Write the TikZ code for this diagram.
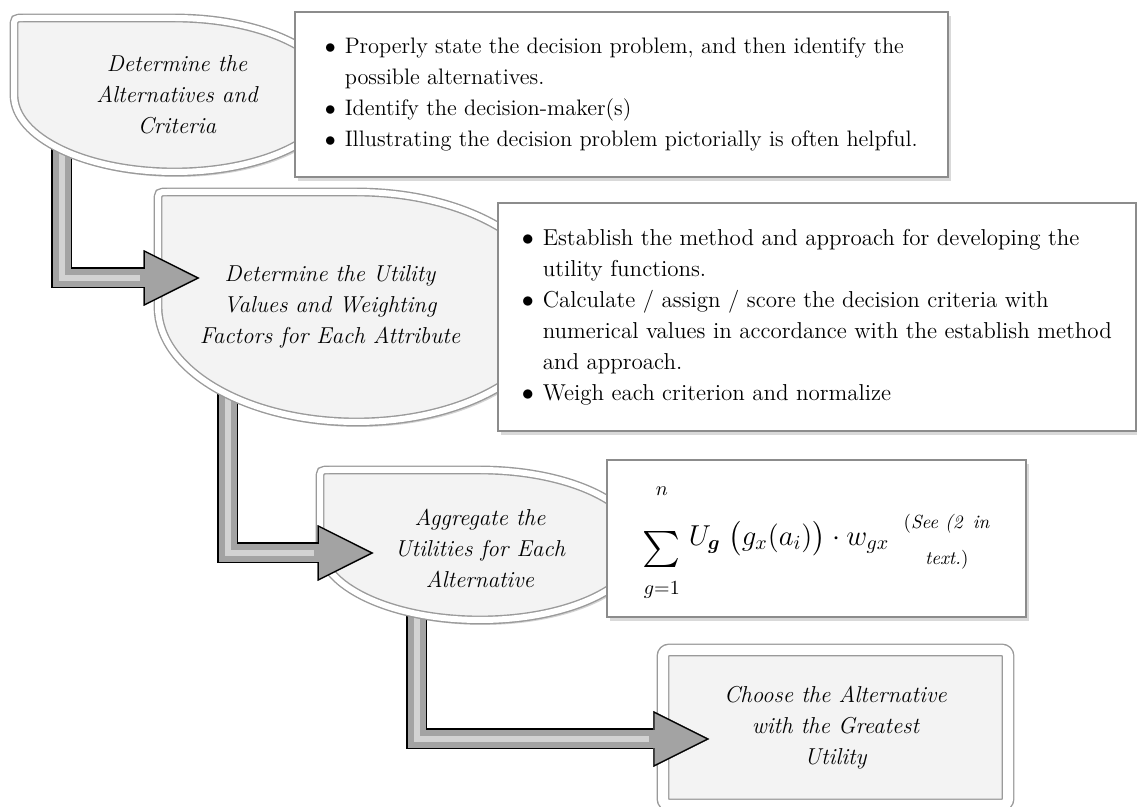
\documentclass[tikz,border=0pt]{standalone}
\usepackage{amsmath,amssymb}
\usepackage{fontspec}
\usepackage{tikz}
\usetikzlibrary{arrows.meta,positioning,calc,shadows}
\definecolor{stagefill}{HTML}{F3F3F3}
\definecolor{rimgray}{HTML}{9A9A9A}
\definecolor{shaftgray}{HTML}{A3A3A3}
\definecolor{shaftlight}{HTML}{D2D2D2}
\definecolor{boxline}{HTML}{8C8C8C}
\pgfdeclarelayer{l1}\pgfdeclarelayer{l2}\pgfdeclarelayer{l3}
\pgfdeclarelayer{l4}\pgfdeclarelayer{l5}\pgfdeclarelayer{l6}
\pgfsetlayers{l1,l2,l3,l4,l5,l6,main}

\begin{document}
\begin{tikzpicture}[x=0.5pt,y=-0.5pt,
			stage/.style={fill=stagefill,draw=rimgray,line width=0.7pt,double=white,double distance=3pt,drop shadow={shadow xshift=1.5pt,shadow yshift=-2.5pt,opacity=0.35}},
			teardrop/.style n args={4}{insert path={(#1,{#2+10}) .. controls (#1,#2) .. ({#1+10},#2) -- ({(#1+#3)/2},#2) .. controls ({(#1+#3)/2+0.5523*(#3-#1)/2},#2) and (#3,{(#2+#4)/2-0.5523*(#4-#2)/2}) .. (#3,{(#2+#4)/2}) .. controls (#3,{(#2+#4)/2+0.5523*(#4-#2)/2}) and ({(#1+#3)/2+0.5523*(#3-#1)/2},#4) .. ({(#1+#3)/2},#4) .. controls ({(#1+#3)/2-0.5523*(#3-#1)/2},#4) and (#1,{(#2+#4)/2+0.5523*(#4-#2)/2}) .. (#1,{(#2+#4)/2}) -- cycle}},
			stagetext/.style={inner sep=0pt,align=center,font=\fontsize{11.5}{15.5}\selectfont\itshape},
			note/.style={draw=boxline,line width=0.8pt,fill=white,anchor=north west,inner ysep=0pt,align=left,font=\fontsize{11.5}{15.5}\selectfont,drop shadow={shadow xshift=1.5pt,shadow yshift=-2pt,opacity=0.3}},
			arrout/.style={draw=black,line width=10.5pt,-{Triangle[length=28pt,width=28pt,line width=0.1pt]}},
			arrin/.style={draw=shaftgray,line width=9pt,shorten >=1.7pt,-{Triangle[length=25.6pt,width=25.6pt,line width=0.1pt]}},
			arrlight/.style={draw=shaftlight,line width=3pt,shorten >=30pt}
			]
			\useasboundingbox (0,0) rectangle (1137,807);
			% stage 1
			\path[stage,teardrop={14}{18}{335}{172}];
			\node[stagetext,minimum width=163pt,minimum height=77pt] (s1) at (177,95) {Determine the\\Alternatives and\\Criteria};
			\node[note,minimum height=82.5pt,inner xsep=15pt,font=\fontsize{11.2}{15.5}\selectfont] (n1) at (294,11) {\begin{tabular}{@{}l@{\hspace{4.5pt}}l@{}}
					$\bullet$ & Properly state the decision problem, and then identify the\\
					& possible alternatives.\\
					$\bullet$ & Identify the decision-maker(s)\\
					$\bullet$ & Illustrating the decision problem pictorially is often helpful.
				\end{tabular}};
			% stage 2
			\begin{pgfonlayer}{l5}
				\path[stage,teardrop={158}{192}{555}{422}];
				\node[stagetext,minimum width=172pt,minimum height=115pt] (s2) at (330,307) {Determine the Utility\\Values and Weighting\\Factors for Each Attribute};
				\node[note,minimum height=114pt,inner xsep=12pt] (n2) at (497,202) {\begin{tabular}{@{}l@{\hspace{4.5pt}}l@{}}
						$\bullet$ & Establish the method and approach for developing the\\
						& utility functions.\\
						$\bullet$ & Calculate / assign / score the decision criteria with\\
						& numerical values in accordance with the establish method\\
						& and approach.\\
						$\bullet$ & Weigh each criterion and normalize
					\end{tabular}};
			\end{pgfonlayer}
			\begin{pgfonlayer}{l6}
				\draw[arrout] ([xshift=24pt,yshift=25pt]s1.south west) |- ([xshift=21pt,yshift=14.5pt]s2.west);
				\draw[arrin] ([xshift=24pt,yshift=25pt]s1.south west) |- ([xshift=21pt,yshift=14.5pt]s2.west);
				\draw[arrlight] ([xshift=24pt,yshift=25pt]s1.south west) |- ([xshift=21pt,yshift=14.5pt]s2.west);
			\end{pgfonlayer}
			% stage 3
			\begin{pgfonlayer}{l3}
				\path[stage,teardrop={320}{470}{640}{620}];
				\node[stagetext,minimum width=160pt,minimum height=75pt] (s3) at (480,548) {Aggregate the\\Utilities for Each\\Alternative};
				\node[note,minimum width=209.5pt,minimum height=78.5pt,inner xsep=15pt,font=\fontsize{14.4}{17}\selectfont] (n3) at (606,459) {$\begin{array}{@{}c@{}}\scriptstyle n\\[13pt]\scalebox{1.25}{$\sum$}\\[1pt]\scriptstyle g=1\end{array}\;U_{\boldsymbol{g}}\;\bigl(g_{x}(a_{i})\bigr)\cdot w_{gx}$\enspace\raisebox{1pt}{\fontsize{9.5}{18}\selectfont\begin{tabular}{@{}c@{}}(\textit{See (2}\enspace\textit{in}\\\textit{text.})\end{tabular}}};
			\end{pgfonlayer}
			\begin{pgfonlayer}{l4}
				\draw[arrout] ([xshift=35pt,yshift=25pt]s2.south west) |- ([xshift=27pt,yshift=-2.5pt]s3.west);
				\draw[arrin] ([xshift=35pt,yshift=25pt]s2.south west) |- ([xshift=27pt,yshift=-2.5pt]s3.west);
				\draw[arrlight] ([xshift=35pt,yshift=25pt]s2.south west) |- ([xshift=27pt,yshift=-2.5pt]s3.west);
			\end{pgfonlayer}
			% stage 4
			\begin{pgfonlayer}{l1}
				\node[stage,stagetext,double distance=5pt,rounded corners=3pt,minimum width=172.5pt,minimum height=77.5pt] (b4) at (835.5,727.5) {Choose the Alternative\\with the Greatest\\Utility};
			\end{pgfonlayer}
			\begin{pgfonlayer}{l2}
				\draw[arrout] ([xshift=48.5pt,yshift=25pt]s3.south west) |- ([xshift=23.5pt,yshift=-5.75pt]b4.west);
				\draw[arrin] ([xshift=48.5pt,yshift=25pt]s3.south west) |- ([xshift=23.5pt,yshift=-5.75pt]b4.west);
				\draw[arrlight] ([xshift=48.5pt,yshift=25pt]s3.south west) |- ([xshift=23.5pt,yshift=-5.75pt]b4.west);
			\end{pgfonlayer}
		\end{tikzpicture}
\end{document}
